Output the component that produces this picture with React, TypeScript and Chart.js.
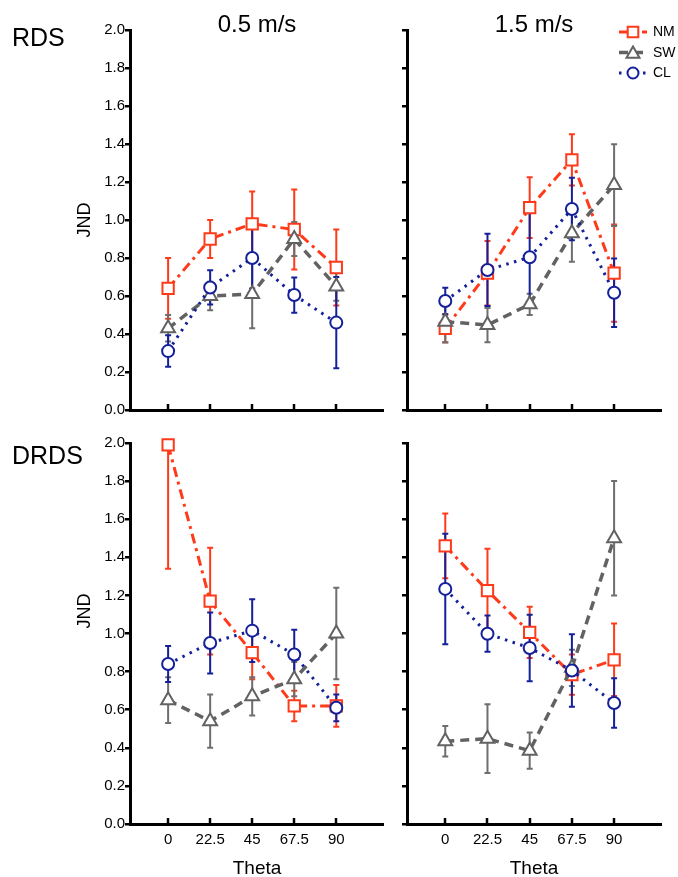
import React, { useEffect, useRef } from 'react';
import { Chart, registerables } from 'chart.js';

Chart.register(...registerables);

// ---------- data ----------
const THETA = [0, 22.5, 45, 67.5, 90];
const Y_TICKS = [0, 0.2, 0.4, 0.6, 0.8, 1.0, 1.2, 1.4, 1.6, 1.8, 2.0];
const SERIES_NAMES = ['NM', 'SW', 'CL'];

// RDS, 0.5 m/s
const RDS05_NM = [0.64, 0.9, 0.98, 0.95, 0.75];
const RDS05_NM_ERR = [0.16, 0.1, 0.17, 0.21, 0.2];
const RDS05_SW = [0.43, 0.6, 0.61, 0.9, 0.65];
const RDS05_SW_ERR = [0.07, 0.075, 0.18, 0.09, 0.075];
const RDS05_CL = [0.31, 0.645, 0.8, 0.605, 0.46];
const RDS05_CL_ERR = [0.083, 0.09, 0.16, 0.093, 0.24];

// RDS, 1.5 m/s
const RDS15_NM = [0.43, 0.72, 1.065, 1.316, 0.72];
const RDS15_NM_ERR = [0.073, 0.17, 0.16, 0.135, 0.256];
const RDS15_SW = [0.465, 0.447, 0.556, 0.93, 1.184];
const RDS15_SW_ERR = [0.11, 0.09, 0.056, 0.15, 0.215];
const RDS15_CL = [0.574, 0.737, 0.804, 1.058, 0.617];
const RDS15_CL_ERR = [0.07, 0.19, 0.245, 0.165, 0.18];

// DRDS, 0.5 m/s
const DRDS05_NM = [1.99, 1.17, 0.9, 0.62, 0.62];
const DRDS05_NM_ERR = [0.65, 0.28, 0.14, 0.08, 0.11];
const DRDS05_SW = [0.65, 0.54, 0.67, 0.76, 1.0];
const DRDS05_SW_ERR = [0.12, 0.14, 0.1, 0.09, 0.24];
const DRDS05_CL = [0.84, 0.95, 1.015, 0.89, 0.61];
const DRDS05_CL_ERR = [0.095, 0.16, 0.165, 0.13, 0.07];

// DRDS, 1.5 m/s
const DRDS15_NM = [1.46, 1.225, 1.006, 0.784, 0.862];
const DRDS15_NM_ERR = [0.17, 0.22, 0.135, 0.106, 0.19];
const DRDS15_SW = [0.434, 0.448, 0.385, 0.82, 1.5];
const DRDS15_SW_ERR = [0.08, 0.18, 0.095, 0.095, 0.3];
const DRDS15_CL = [1.234, 0.999, 0.924, 0.806, 0.635];
const DRDS15_CL_ERR = [0.29, 0.095, 0.175, 0.19, 0.13];

// ---------- styles ----------
const FONT = '"Liberation Sans", Arial, Helvetica, sans-serif';
const RED = '#FF3A1A';
const GRAY = '#626262';
const GRAY_ERR = '#6E6E6E';
const BLUE = '#14209A';

const STYLE: Record<string, any> = {
  NM: { color: RED, err: RED, dash: [10, 5, 3, 5], width: 3, point: 'rect', radius: 8, cap: 'butt' },
  SW: { color: GRAY, err: GRAY_ERR, dash: [9, 6], width: 3.5, point: 'triangle', radius: 8, cap: 'butt' },
  CL: { color: BLUE, err: BLUE, dash: [2.5, 5.5], width: 3, point: 'circle', radius: 6, cap: 'butt' },
};

const errorBarPlugin = {
  id: 'errorBars',
  beforeDatasetsDraw(chart: any) {
    const { ctx, chartArea, scales } = chart;
    const xs = scales.x;
    const ys = scales.y;
    ctx.save();
    ctx.beginPath();
    ctx.rect(chartArea.left, chartArea.top - 1, chartArea.right - chartArea.left, chartArea.bottom - chartArea.top + 1);
    ctx.clip();
    const dss = chart.data.datasets;
    for (let k = dss.length - 1; k >= 0; k--) {
      const ds = dss[k];
      if (!ds.errors) continue;
      ctx.strokeStyle = ds.errorColor;
      ctx.lineWidth = 2;
      ctx.setLineDash([]);
      ds.data.forEach((p: any, i: number) => {
        const px = xs.getPixelForValue(p.x);
        const t = ys.getPixelForValue(p.y + ds.errors[i]);
        const b = ys.getPixelForValue(p.y - ds.errors[i]);
        ctx.beginPath();
        ctx.moveTo(px, t);
        ctx.lineTo(px, b);
        ctx.moveTo(px - 3, t);
        ctx.lineTo(px + 3, t);
        ctx.moveTo(px - 3, b);
        ctx.lineTo(px + 3, b);
        ctx.stroke();
      });
    }
    ctx.restore();
  },
};

const innerTickPlugin = {
  id: 'innerTicks',
  afterDraw(chart: any) {
    const { ctx, chartArea, scales } = chart;
    ctx.save();
    ctx.strokeStyle = '#000';
    ctx.lineWidth = 2.5;
    ctx.setLineDash([]);
    THETA.forEach((v) => {
      const px = Math.round(scales.x.getPixelForValue(v));
      ctx.beginPath();
      ctx.moveTo(px, chartArea.bottom);
      ctx.lineTo(px, chartArea.bottom - 6);
      ctx.stroke();
    });
    ctx.restore();
  },
};

function drawMarker(ctx: CanvasRenderingContext2D, kind: string, x: number, y: number, r: number) {
  ctx.beginPath();
  if (kind === 'rect') {
    const s = r * Math.SQRT1_2;
    ctx.rect(x - s, y - s, 2 * s, 2 * s);
  } else if (kind === 'triangle') {
    ctx.moveTo(x, y - r);
    ctx.lineTo(x + r * Math.sin(Math.PI / 3), y + r / 2);
    ctx.lineTo(x - r * Math.sin(Math.PI / 3), y + r / 2);
    ctx.closePath();
  } else {
    ctx.arc(x, y, r, 0, Math.PI * 2);
  }
  ctx.fill();
  ctx.stroke();
}

const legendPlugin = {
  id: 'customLegend',
  afterDraw(chart: any) {
    const { ctx } = chart;
    const rows = [32, 52.5, 73];
    ctx.save();
    SERIES_NAMES.forEach((name, i) => {
      const st = STYLE[name];
      const y = rows[i];
      ctx.strokeStyle = st.color;
      ctx.lineWidth = st.width;
      ctx.setLineDash(st.dash);
      ctx.beginPath();
      ctx.moveTo(224, y);
      ctx.lineTo(252, y);
      ctx.stroke();
      ctx.setLineDash([]);
      ctx.lineWidth = 2;
      ctx.fillStyle = '#fff';
      drawMarker(ctx, st.point, 238, st.point === 'triangle' ? y + 1.5 : y, st.radius - 0.5);
      ctx.fillStyle = '#000';
      ctx.font = `14px ${FONT}`;
      ctx.textBaseline = 'middle';
      ctx.textAlign = 'left';
      ctx.fillText(name, 258, y + 0.5);
    });
    ctx.restore();
  },
};

type PanelProps = {
  left: number; top: number; width: number; height: number;
  yWidth: number; padTop: number; padRight: number; xHeight: number;
  showY: boolean; showX: boolean; legend?: boolean;
  nm: number[]; nmErr: number[]; sw: number[]; swErr: number[]; cl: number[]; clErr: number[];
};

function Panel(p: PanelProps) {
  const ref = useRef<HTMLCanvasElement | null>(null);
  useEffect(() => {
    if (!ref.current) return;
    const mk = (name: string, vals: number[], errs: number[]) => {
      const st = STYLE[name];
      return {
        label: name,
        data: THETA.map((x, i) => ({ x, y: vals[i] })),
        errors: errs,
        errorColor: st.err,
        borderColor: st.color,
        borderWidth: st.width,
        borderDash: st.dash,
        borderCapStyle: st.cap,
        fill: false,
        tension: 0,
        pointStyle: st.point,
        pointRadius: st.radius,
        pointBorderWidth: 2,
        pointBorderColor: st.color,
        pointBackgroundColor: '#fff',
        clip: false,
      };
    };
    const plugins: any[] = [errorBarPlugin, innerTickPlugin];
    if (p.legend) plugins.push(legendPlugin);
    const chart = new Chart(ref.current, {
      type: 'line',
      data: {
        datasets: [mk('CL', p.cl, p.clErr), mk('SW', p.sw, p.swErr), mk('NM', p.nm, p.nmErr)] as any,
      },
      plugins,
      options: {
        animation: false,
        responsive: false,
        devicePixelRatio: 1,
        events: [],
        layout: { padding: { top: p.padTop, right: p.padRight, left: 0, bottom: 0 } },
        plugins: { legend: { display: false }, tooltip: { enabled: false } },
        scales: {
          x: {
            type: 'linear',
            min: -20.4,
            max: 115,
            afterBuildTicks: (s: any) => { s.ticks = THETA.map((v) => ({ value: v })); },
            afterFit: (s: any) => { s.height = p.xHeight; },
            grid: { display: false },
            border: { display: true, width: 3, color: '#000' },
            ticks: {
              display: p.showX,
              autoSkip: false,
              maxRotation: 0,
              padding: -1,
              color: '#000',
              font: { size: 15, family: FONT },
              callback: (v: any) => String(v),
            },
          },
          y: {
            type: 'linear',
            min: 0,
            max: 2,
            afterBuildTicks: (s: any) => { s.ticks = Y_TICKS.map((v) => ({ value: v })); },
            afterFit: (s: any) => { s.width = p.yWidth; },
            grid: {
              display: true,
              drawOnChartArea: false,
              drawTicks: true,
              tickLength: 5,
              tickWidth: 2.5,
              lineWidth: 2.5,
              color: '#000',
              tickColor: '#000',
            },
            border: { display: true, width: 3, color: '#000' },
            ticks: {
              display: p.showY,
              padding: 0,
              color: '#000',
              font: { size: 15, family: FONT },
              callback: (v: any) => Number(v).toFixed(1),
            },
          },
        },
      } as any,
    });
    return () => chart.destroy();
  }, []);
  return (
    <canvas
      ref={ref}
      width={p.width}
      height={p.height}
      style={{ position: 'absolute', left: p.left, top: p.top, width: p.width, height: p.height }}
    />
  );
}

function Label(props: { text: string; x: number; y: number; size: number; rotate?: boolean; anchor?: 'center' | 'left' }) {
  const { text, x, y, size, rotate, anchor = 'center' } = props;
  const tx = anchor === 'center' ? '-50%' : '0';
  return (
    <div
      style={{
        position: 'absolute',
        left: x,
        top: y,
        fontSize: size,
        lineHeight: `${size}px`,
        fontFamily: FONT,
        color: '#000',
        whiteSpace: 'nowrap',
        transform: `translate(${tx}, -50%)${rotate ? ' rotate(-90deg)' : ''}`,
        transformOrigin: anchor === 'center' ? '50% 50%' : '0 50%',
      }}
    >
      {text}
    </div>
  );
}

export default function App() {
  return (
    <div style={{ position: 'fixed', left: 0, top: 0, width: 678, height: 877, background: '#fff', overflow: 'hidden' }}>
      <Panel left={0} top={0} width={395} height={425} yWidth={130} padTop={30} padRight={12} xHeight={15}
        showY showX={false}
        nm={RDS05_NM} nmErr={RDS05_NM_ERR} sw={RDS05_SW} swErr={RDS05_SW_ERR} cl={RDS05_CL} clErr={RDS05_CL_ERR} />
      <Panel left={395} top={0} width={283} height={425} yWidth={12} padTop={30} padRight={17} xHeight={15}
        showY={false} showX={false} legend
        nm={RDS15_NM} nmErr={RDS15_NM_ERR} sw={RDS15_SW} swErr={RDS15_SW_ERR} cl={RDS15_CL} clErr={RDS15_CL_ERR} />
      <Panel left={0} top={425} width={395} height={452} yWidth={130} padTop={18} padRight={12} xHeight={53}
        showY showX
        nm={DRDS05_NM} nmErr={DRDS05_NM_ERR} sw={DRDS05_SW} swErr={DRDS05_SW_ERR} cl={DRDS05_CL} clErr={DRDS05_CL_ERR} />
      <Panel left={395} top={425} width={283} height={452} yWidth={12} padTop={18} padRight={17} xHeight={53}
        showY={false} showX
        nm={DRDS15_NM} nmErr={DRDS15_NM_ERR} sw={DRDS15_SW} swErr={DRDS15_SW_ERR} cl={DRDS15_CL} clErr={DRDS15_CL_ERR} />

      <Label text="RDS" x={12} y={37} size={25} anchor="left" />
      <Label text="DRDS" x={12} y={455} size={25} anchor="left" />
      <Label text="0.5 m/s" x={257} y={24} size={24} />
      <Label text="1.5 m/s" x={534} y={24} size={24} />
      <Label text="JND" x={84} y={220} size={18} rotate />
      <Label text="JND" x={84} y={611} size={18} rotate />
      <Label text="Theta" x={257} y={867} size={19} />
      <Label text="Theta" x={534} y={867} size={19} />
    </div>
  );
}
